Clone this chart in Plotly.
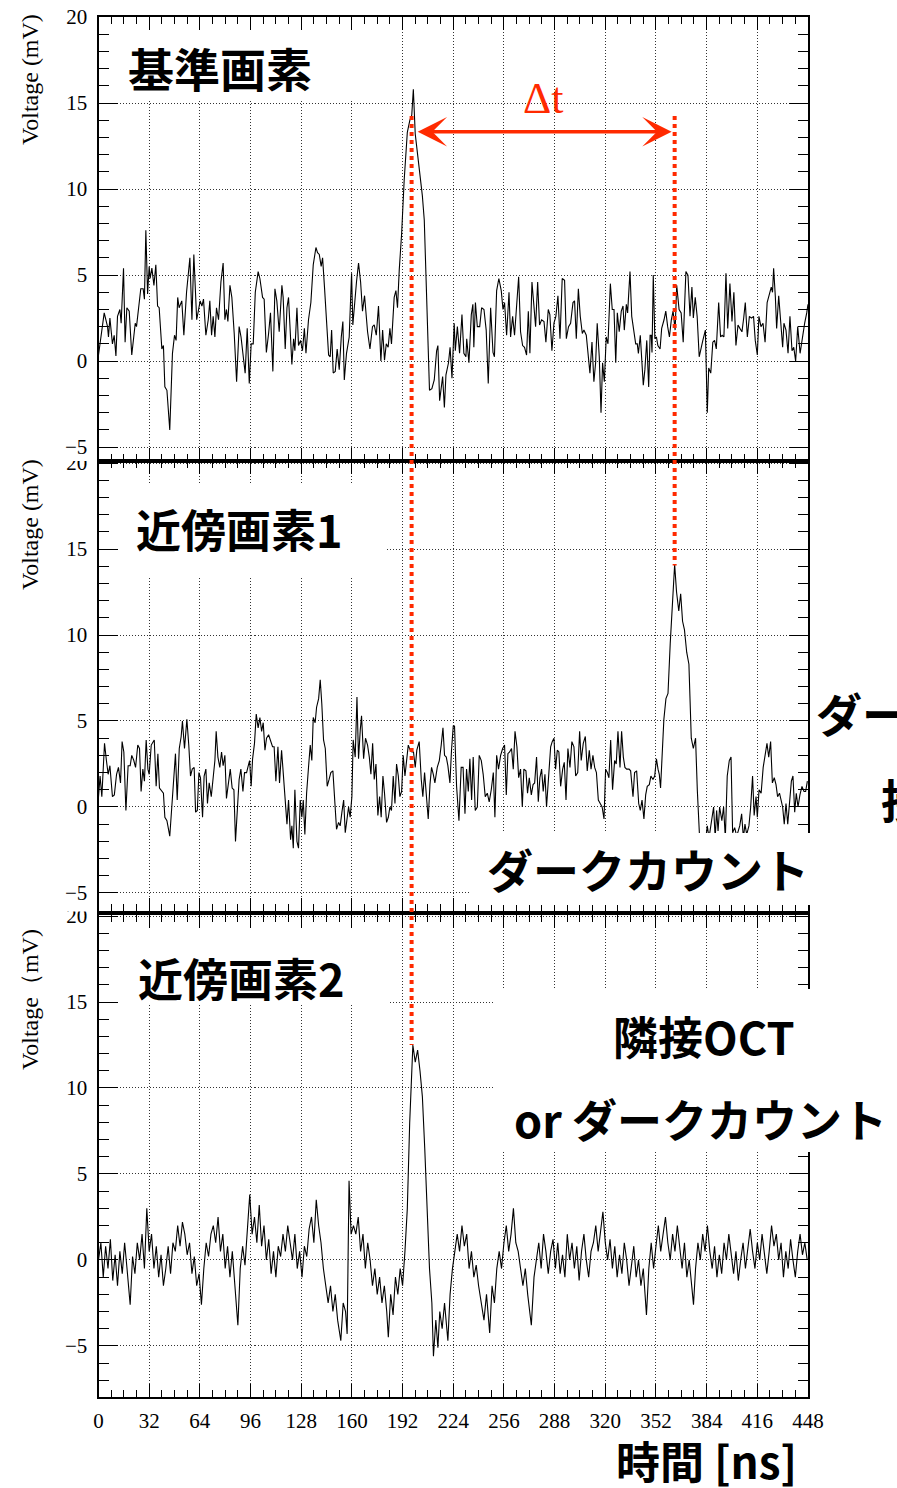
import plotly.graph_objects as go

# ---------------- data (time [ns], voltage [mV]) ----------------
P1 = [(0,0.35),(3.6,2.8),(5.7,2.0),(6.3,1.4),(7.2,2.5),(8.8,1.0),(9.9,1.5),(11,0.3),(12,2.6),(13.5,3.0),(14.3,2.2),(15.8,5.4),(16.8,1.1),(17.9,3.1),(19.4,2.9),(21,0.35),(23.2,2.2),(24,2.0),(26.7,4.2),(28.2,4.2),(29,3.6),(29.9,7.6),(31,3.9),(32,5.5),(32.6,4.8),(33.7,5.4),(35,4.4),(36.2,5.6),(37.3,3.2),(38.3,3.1),(40,0.7),(41,0.9),(41.9,-1.5),(43.2,-1.7),(45,-4.0),(46.7,0.45),(48,1.5),(49,1.2),(50,3.7),(50.9,3.1),(52.6,3.5),(53.9,1.5),(55.6,4.0),(57.7,6.0),(59,2.4),(60.2,6.2),(62,2.4),(63.2,2.9),(64.2,3.5),(65.3,3.2),(66.3,3.6),(67.8,1.5),(69.3,2.4),(70.3,3.5),(71.4,1.5),(72.4,2.6),(73.5,1.4),(74.5,3.1),(75.8,2.4),(77.3,4.6),(78.7,5.7),(79.8,2.4),(80.8,3.0),(81.7,2.3),(83,4.4),(84.2,3.7),(85.7,1.6),(87.2,-1.2),(88.8,2.0),(90,1.4),(91.4,0.05),(92.6,-0.7),(93.9,1.9),(95.2,-1.3),(96.4,1.0),(97.7,1.0),(99,4.0),(100.8,5.2),(101.9,4.8),(103.6,3.7),(104.6,3.6),(106,0.5),(107.4,1.6),(108.6,2.8),(110.1,-0.6),(111.4,4.2),(112.6,3.5),(114.1,1.7),(115.8,4.4),(116.6,3.7),(117.9,0.7),(119,3.1),(120,3.7),(121.3,1.5),(122.1,-0.2),(123.2,1.3),(124,0.6),(125.3,3.1),(126.3,0.9),(127.6,1.2),(128.8,0.6),(130,1.9),(131,0.45),(132.6,2.4),(134.1,3.4),(135.6,5.6),(137.3,6.6),(138.3,6.3),(139.4,6.2),(140.6,5.5),(141.5,6.0),(142.7,4.3),(144.2,1.6),(145.3,0.35),(146.3,0.25),(147.2,1.8),(148.2,-0.7),(149.5,-0.6),(150.7,0.7),(152,-0.5),(153.3,1.4),(154.3,2.3),(155.2,-1.1),(156.6,0.45),(158.3,1.4),(159.8,5.1),(160.6,2.1),(161.7,3.5),(162.9,4.6),(164.2,5.7),(165.5,4.6),(166.7,2.9),(168,3.8),(169.9,1.7),(171.4,0.7),(173,2.0),(174.1,2.1),(175.4,1.5),(176.8,3.2),(178.3,0),(179.4,1.8),(180.6,0.05),(181.7,1.0),(182.9,0.8),(184,1.9),(185,1.0),(186.7,3.7),(187.8,4.1),(188.8,3.1),(189.9,5.3),(191.4,7.4),(193,10.5),(195,13.3),(196.6,14.0),(197.8,14.3),(198.8,15.8),(200,13.2),(201.5,12.0),(203,10.9),(204.5,9.6),(205.7,8.2),(206.7,5.1),(208,1.5),(209,-1.7),(210.5,-1.6),(212,-1.1),(213.5,0.6),(214.3,0.9),(215.4,-2.3),(217.3,-0.9),(218.4,-2.7),(219.4,-0.8),(221,-0.1),(222,0.8),(223.2,-1.0),(224.6,2.2),(225.3,0.6),(226.6,2.0),(228,0.45),(229.5,2.7),(230.7,0.45),(232,0.25),(232.5,1.3),(233.9,-0.1),(235.4,2.7),(236.4,3.3),(237,0.8),(238,3.4),(239.2,2.0),(240.7,2.0),(241.9,3.1),(243.4,3.0),(244.8,1.8),(246.1,-1.3),(247.6,3.1),(249.1,0.5),(250,0.25),(251.4,4.1),(252.8,4.8),(254.3,4.1),(255.4,3.0),(256.4,3.4),(257.7,1.5),(259.2,4.0),(260.2,1.4),(261.5,2.6),(262.7,1.5),(264,3.3),(265.3,4.9),(266.5,1.7),(267.8,0.9),(269,0.8),(270.3,0.35),(271.4,2.9),(272.4,0.45),(273.7,4.6),(275,3.3),(276,2.0),(277.3,4.6),(278.5,2.1),(279.8,2.4),(281.3,2.3),(282.5,1.1),(284,3.0),(285,2.7),(286.3,0.6),(287.6,2.2),(288.8,2.6),(290.1,3.8),(291.4,1.3),(292.8,4.8),(294.3,4.7),(295.4,1.3),(296.8,2.0),(298.1,2.2),(299.6,3.4),(300.6,3.5),(301.7,1.3),(303,4.2),(304.2,2.6),(305.5,1.6),(306.5,1.8),(308,1.5),(309.3,0.45),(310.3,-0.7),(311.6,1.1),(312.8,-1.2),(313.9,-0.1),(314.9,2.2),(316.2,0.25),(317.3,-3.0),(318.3,-0.1),(319.4,-1.2),(320.6,1.4),(321.7,1.0),(323.2,4.5),(324.4,3.0),(325.5,3.0),(326.6,-0.1),(327.6,2.8),(328.8,1.7),(330.1,2.9),(331.2,3.2),(332,1.8),(333.3,3.3),(334.1,2.8),(335.6,5.2),(336.7,2.6),(337.9,1.9),(339.2,1.0),(340.2,1.0),(340.9,0.45),(342.1,1.5),(343,0.25),(344,-1.4),(345,-0.5),(346.2,1.2),(347.4,-1.5),(348.3,1.5),(349,1.5),(349.5,0.5),(350.3,5.0),(351.3,1.3),(352.3,1.4),(353.2,0.9),(354.6,0.7),(355.6,1.9),(357.1,2.4),(358.2,2.9),(359.4,2.0),(360.5,1.4),(361.7,2.4),(362.8,2.9),(364.1,1.8),(365.1,4.4),(366.6,3.0),(367.9,2.8),(369.2,1.1),(370.9,5.2),(372.2,5.0),(373.5,2.6),(374.7,4.3),(375.6,2.5),(376.8,3.7),(378,2.6),(379.3,0.25),(380.5,0.8),(381.6,1.2),(383.2,1.8),(384.4,-3.0),(385.3,-0.4),(386.6,-0.7),(387.9,1.1),(389,1.2),(390.1,0.7),(391.6,3.4),(392.8,1.4),(393.8,1.5),(394.9,1.4),(396.2,5.1),(397.3,1.9),(398.7,4.5),(400,2.3),(401.2,4.0),(402.5,0.9),(403.8,2.1),(405,1.9),(406.3,1.7),(407.4,2.5),(408.4,3.4),(409.7,1.4),(411,2.6),(412.3,2.5),(413.6,2.6),(414.7,1.2),(416,0.35),(417,2.6),(418.3,2.0),(419.6,2.2),(420.9,1.1),(422.2,3.4),(423.7,4.0),(424.8,4.3),(425.6,4.0),(426.3,5.4),(427.4,3.7),(428.2,1.9),(429.5,3.8),(430.7,2.4),(432,0.8),(432.8,2.2),(434.1,1.8),(435.4,0.45),(436.6,2.6),(437.9,0.6),(439,0.8),(440.2,0),(441.5,2.0),(443,0.45),(444.4,1.4),(445.9,2.2),(447.2,2.8),(448,3.3)]

P2 = [(0,0.6),(1,1.8),(2.1,0.6),(3.8,3.7),(5,2.7),(6.1,1.9),(7.2,2.4),(8.8,0.6),(10,0.7),(11.4,1.9),(12.6,2.3),(13.9,1.4),(14.9,3.8),(16,3.2),(17.3,-0.2),(18.7,2.4),(20,2.4),(21,3.0),(22.3,2.7),(23.4,2.3),(24.8,3.6),(25.9,3.4),(26.9,0.9),(28,2.2),(29,1.5),(30.1,3.9),(31.2,2.2),(32,1.9),(33.3,3.6),(34.3,3.8),(35.2,3.9),(36.4,1.2),(37.5,3.1),(38.5,1.1),(39.8,0.9),(41,0.8),(41.9,-0.6),(43.2,-0.8),(45,-1.7),(46.3,0),(47.4,2.0),(48.6,3.1),(49.7,0.4),(51,3.4),(52.2,4.1),(53,5.0),(54.3,3.4),(55.8,5.1),(57,3.6),(58.1,1.8),(59.2,2.2),(60.4,2.3),(61.3,-0.3),(62.4,-0.2),(63.4,2.0),(64.4,1.7),(65.7,-0.6),(66.7,1.8),(67.8,2.2),(68.8,0.2),(69.9,1.4),(71.2,0.6),(72.4,1.7),(73.5,2.7),(74.3,4.4),(75.4,2.9),(76.6,2.3),(77.7,3.2),(78.7,2.4),(79.8,3.0),(80.8,0.5),(82.1,1.6),(83.2,2.2),(84.4,1.1),(85.5,1.0),(86.5,-2.0),(87.8,0),(88.8,1.6),(89.9,2.2),(91.2,0.9),(92.2,2.0),(93.5,2.0),(94.3,2.3),(95.4,2.7),(96.4,1.2),(97.3,2.8),(98.5,3.7),(99.6,5.4),(100.8,4.6),(101.9,5.2),(103,4.4),(104,4.9),(105.1,3.3),(106.1,4.0),(107.4,4.2),(108.6,3.9),(109.9,3.5),(110.9,3.5),(112,1.5),(113.3,3.5),(114.3,1.4),(115.6,3.3),(116.6,2.1),(117.9,0.4),(119,-1.0),(120,0.4),(121.3,-1.9),(122.1,-1.1),(123,-2.4),(124,1.0),(125.3,-2.0),(126.3,-2.4),(127.4,0.4),(128.4,-0.6),(129.3,0.4),(130.3,-1.6),(131.4,0.8),(132.6,2.3),(133.7,3.6),(134.7,2.7),(135.6,5.2),(136.8,4.9),(137.7,5.8),(139,6.3),(140,7.4),(141,6.0),(142.1,3.9),(143.2,3.4),(144.4,1.2),(145.6,1.6),(146.7,2.0),(148,2.1),(149,0.6),(150.3,-1.3),(151.6,-0.9),(152.6,-1.1),(153.7,-0.3),(154.8,0.4),(155.8,-1.5),(156.8,-0.6),(157.9,0),(158.9,-0.6),(160,0.6),(160.8,3.9),(162.1,2.9),(163.2,6.4),(164.2,2.8),(165.3,4.5),(166.1,5.3),(167.4,2.8),(168.6,4.0),(169.9,3.6),(171,2.9),(172,1.9),(173.1,3.7),(174.1,1.6),(175.2,2.5),(176.4,-0.5),(177.5,0.6),(178.5,-0.6),(179.6,1.8),(180.6,0.8),(181.9,-0.9),(183,-0.6),(184,0),(185,-0.2),(186.1,1.8),(187.2,0.2),(188.2,2.5),(189.3,1.8),(190.3,0.6),(191.4,0.9),(192.4,3.0),(193.5,1.8),(194.5,2.7),(195.6,3.6),(196.8,3.3),(197.9,3.2),(198.9,3.2),(200,2.3),(201,3.3),(202.5,3.8),(203.8,1.6),(204.8,0.6),(205.9,2.0),(206.9,0.9),(208.2,-0.7),(209.3,1.3),(210.3,2.3),(211.4,1.9),(212.4,1.4),(213.9,2.3),(215.2,2.7),(216.4,3.6),(217.5,4.6),(218.5,3.0),(219.6,2.9),(220.6,2.4),(221.9,1.4),(222.9,3.3),(224,4.7),(224.8,4.7),(226.1,1.2),(227.6,-0.8),(229,2.3),(230.2,2.3),(231.4,-0.4),(232.4,2.2),(233.5,0.9),(234.5,2.8),(235.6,0.4),(236.6,2.9),(237.9,-0.2),(239.2,0),(240.4,3.0),(241.7,2.7),(242.9,1.9),(244.2,0.6),(245.5,0.8),(246.7,0.3),(248,1.0),(249.3,2.0),(250.3,-0.6),(251.4,3.0),(252.6,2.2),(253.9,3.0),(255.2,3.4),(256.4,3.6),(257.5,0.7),(258.5,3.1),(259.6,3.2),(260.8,3.4),(261.9,2.2),(263,4.4),(264.2,3.5),(265.3,1.7),(266.5,2.2),(267.6,0),(268.6,2.2),(269.9,2.1),(270.9,0.8),(272,1.7),(273.3,0.7),(274.4,1.3),(275.4,1.4),(276.6,2.9),(277.7,0.3),(278.7,1.7),(279.8,2.2),(280.8,0.9),(281.9,1.9),(282.9,0),(284.4,2.0),(285.5,3.5),(286.5,3.8),(287.6,4.0),(288.6,2.2),(289.7,3.3),(290.7,3.2),(291.8,1.2),(293.1,2.2),(294.1,2.6),(295.2,0.4),(296.4,3.4),(297.7,2.3),(298.9,3.8),(300.2,3.5),(301.3,1.8),(302.6,2.0),(303.8,4.4),(304.8,2.7),(306.1,3.7),(307.4,4.1),(308.6,2.1),(309.9,3.3),(311,2.2),(312.2,3.0),(313.3,2.3),(314.4,2.0),(315.6,0.4),(316.8,0.2),(318,0),(319.2,-0.7),(320.2,2.2),(321.3,2.0),(322.3,1.7),(323.4,3.9),(324.6,1.0),(325.9,2.7),(326.9,2.5),(328,4.4),(329.3,2.3),(330.3,4.4),(331.4,2.9),(332.4,2.3),(333.5,2.2),(335,2.2),(336,2.1),(337.5,0.6),(338.5,2.0),(339.8,2.1),(341.1,0.2),(342.1,-0.2),(343.2,0.4),(344.4,-0.7),(345.5,0.7),(346.5,1.2),(347.8,1.3),(348.8,1.8),(350.1,1.6),(351.2,1.8),(352.3,2.8),(353.3,2.2),(354.1,1.9),(354.9,1.1),(356,3.7),(357,5.1),(358.3,6.3),(359.6,6.6),(361,9.5),(362.5,12.0),(363.8,14.1),(365,12.5),(366.4,11.4),(367.6,12.4),(368.8,10.8),(370,10.3),(371.4,9.0),(372.8,8.3),(374.3,4.0),(375.6,3.4),(377,4.0),(378.1,1.0),(379.4,-1.5),(380.5,-2.5),(381.8,-3.0),(383,-2.2),(384.4,-1.1),(385.5,-1.8),(387,-1.0),(388.4,0),(389.4,-1.8),(390.3,-0.2),(391.2,-1.4),(392.2,0),(393.6,-0.8),(394.7,0),(395.8,-1.8),(397,1.8),(398.3,2.7),(399.4,2.9),(400.4,-1.5),(401.7,-1.2),(403,-1.7),(404,-1.3),(404.9,-1.1),(406.1,-0.4),(407.2,-1.8),(408.2,-1.0),(409.3,-1.6),(410.7,-1.1),(411.8,0),(413,1.8),(414,-0.5),(415.2,0.6),(416,-0.6),(417.1,1.0),(418.4,0.8),(419.7,2.3),(421,3.1),(422.1,3.7),(423.2,2.9),(424.4,3.8),(425.5,1.4),(426.7,1.7),(427.8,1.3),(428.8,0.6),(430,0.8),(431,0.3),(432,0),(433,-1.0),(434.1,0.2),(435.2,-1.0),(436.4,0.4),(437.5,1.5),(438.5,1.8),(439.6,-0.3),(440.6,0.8),(441.7,0),(442.9,0.7),(444.2,1.2),(445.5,0.9),(446.5,0.9),(447.6,1.5)]

P3 = [(0,0),(1.5,1.0),(3,-1.0),(4.5,0.8),(6,-0.5),(7.5,1.2),(9,-1.2),(10.5,0.3),(12,-1.5),(13.5,0.5),(15,-0.8),(16.5,1.0),(18,-0.5),(20,-2.6),(21.5,0.2),(23,-0.8),(24.5,1.0),(26,0),(27.5,1.5),(29,-0.5),(30.5,3.0),(32,0.5),(33.5,1.5),(35,-0.5),(36.5,0.8),(38,-1.0),(39.5,0.3),(41,-1.5),(42.5,-0.5),(44,0.8),(45.5,-0.8),(47,1.0),(48.5,0.5),(50,2.0),(51.5,0.8),(53,2.2),(54.5,1.5),(56,0.3),(57.5,1.0),(59,-0.8),(60.5,0.2),(62,-1.5),(63.5,-0.8),(65,-2.6),(66.5,-0.5),(68,1.0),(69.5,0.2),(71,1.5),(72.5,2.0),(74,1.0),(75.5,2.5),(77,0.5),(78.5,1.5),(80,-0.5),(81.5,0.8),(83,-1.0),(84.5,0.5),(86,-1.5),(88,-3.8),(89.5,-0.5),(91,0.8),(92.5,-0.3),(94,2.0),(95.5,3.8),(97,1.5),(98.5,2.5),(100,1.0),(101.5,3.2),(103,0.8),(104.5,2.0),(106,0),(107.5,1.2),(109,-0.8),(110.5,0.5),(112,-1.0),(113.5,0.8),(115,0.2),(116.5,1.5),(118,0.5),(119.5,2.0),(121,1.0),(122.5,0),(124,1.5),(125.5,-0.5),(127,0.5),(128.5,-1.0),(130,0.8),(131.5,0.2),(133,1.8),(134.5,2.5),(136,1.0),(137.5,3.5),(139,2.0),(140.5,1.0),(142,-0.5),(143.5,-1.5),(145,-2.5),(146.5,-1.5),(148,-3.0),(149.5,-2.0),(151,-3.5),(153,-4.7),(154.5,-2.5),(156,-3.0),(157,-4.3),(158.2,4.6),(159.5,1.5),(161,2.0),(162.5,1.5),(164,2.5),(165.5,0.5),(167,1.5),(168.5,-0.5),(170,1.0),(171.5,0),(173,-1.5),(174.5,-0.5),(176,-2.0),(177.5,-1.0),(179,-2.5),(180.5,-1.5),(182,-3.0),(183,-4.5),(184.5,-2.0),(186,-3.2),(187.5,-1.0),(189,-2.0),(190.5,-0.5),(192,-1.5),(193.5,0.5),(195,3.0),(196.5,8.0),(197.5,10.5),(198.5,12.5),(200,11.5),(201.5,12.2),(203,11.0),(204.5,9.5),(206,6.5),(207.5,3.0),(209,-0.5),(210.5,-2.5),(211.5,-5.6),(213,-3.5),(214.3,-5.1),(215.5,-3.0),(217,-4.0),(218.5,-2.5),(220.6,-4.7),(222,-2.0),(223.5,-0.5),(225,0.5),(226.5,1.5),(228,0.5),(229.5,2.0),(231,0.8),(232.5,1.5),(234,-0.5),(235.5,0.5),(237,-1.0),(238.5,-0.3),(240,-1.5),(241.5,-2.5),(243.4,-3.5),(245,-2.0),(247,-4.25),(248.5,-1.5),(250,-2.5),(251.5,-0.5),(253,0.5),(254.5,-0.5),(256,1.0),(257.5,2.0),(259,0.5),(260.5,1.5),(262,3.0),(263.5,1.0),(265,0.5),(266.5,-0.5),(268,-1.5),(269.5,-0.5),(271,-2.0),(273.3,-3.8),(275,-1.0),(276.5,0),(278,1.0),(279.5,-0.5),(281,1.5),(282.5,0.5),(284,-0.8),(285.5,0.5),(287,1.2),(288.5,-0.5),(290,1.0),(291.5,-0.8),(293,0.3),(294.5,-1.0),(296,1.5),(297.5,0),(299,1.0),(300.5,-0.5),(302,0.8),(303.5,-1.2),(305,0.5),(306.5,1.5),(308,0),(309.5,-1.0),(311,0.5),(312.5,1.0),(314,2.0),(315.5,0.5),(317,1.5),(318.5,2.8),(320,1.0),(321.5,0),(323,1.2),(324.5,-0.5),(326,0.8),(327.5,-1.0),(329,0.3),(330.5,-0.8),(332,1.0),(333.5,0),(335,-1.5),(336.5,-0.5),(338,0.8),(339.5,-1.0),(341,0),(342.5,-1.5),(344,-0.5),(346,-3.2),(347.5,-0.5),(349,1.0),(350.5,-0.5),(352,0.8),(353.5,2.0),(355,0.5),(356.5,1.5),(358,2.5),(359.5,1.0),(361,0),(362.5,1.5),(364,0.5),(365.5,2.0),(367,0.8),(368.5,-0.5),(370,1.0),(371.5,-1.0),(373,0),(374.5,-1.5),(375.7,-2.6),(377,-0.5),(378.5,1.0),(380,0),(381.5,1.5),(383,0.5),(384.5,2.0),(386,0.5),(387.5,-0.5),(389,0.8),(390.5,-1.0),(392,0.3),(393.5,-0.8),(395,1.0),(396.5,0),(398,1.5),(399.5,0.3),(401,-0.8),(402.5,0.5),(404,-1.2),(405.5,0),(407,1.0),(408.5,-0.5),(410,0.8),(411.5,1.8),(413,0.5),(414.5,-0.5),(416,1.0),(417.5,0),(419,1.5),(420.5,0.5),(422,-0.8),(423.5,0.5),(425,2.0),(426.5,0.8),(428,1.5),(429.5,0),(431,1.0),(432.5,-1.0),(434,0.5),(435.5,-0.5),(437,1.2),(438.5,0),(440,-1.0),(441.5,0.5),(443,1.5),(444.5,0.3),(446,1.0),(447.5,0)]

X_TICKS = [0, 32, 64, 96, 128, 160, 192, 224, 256, 288, 320, 352, 384, 416, 448]
Y_TICKS = [-5, 0, 5, 10, 15, 20]

# annotation markers (times in ns, voltages in mV)
T_REF = 197.7      # reference pixel pulse
T_DARK = 363.8     # dark count pulse in neighbour 1
V_TOP = 14.25      # top of the red markers (panel 1)
V_END3 = 12.5      # bottom of marker 1 (panel 3)
V_END2 = 14.05     # bottom of marker 2 (panel 2)
ARROW_T0, ARROW_T1, ARROW_V = 200.6, 361.9, 13.33

# ---------------- geometry ----------------
W, H = 897, 1488
XL, XR = 98.5, 808.0
PXPERNS = (XR - XL) / 448.0


def xp(px):
    return px / W


def yp(py):
    return 1 - py / H


PANELS = [  # (top px, bottom px, y range)
    (16.5, 461.0, [-5.81, 20.03]),
    (461.0, 911.0, [-6.05, 20.12]),
    (915.0, 1397.0, [-7.97, 20.06]),
]


def ypaper(i, v):
    top, bot, rng = PANELS[i]
    d0, d1 = yp(bot), yp(top)
    return d0 + (v - rng[0]) / (rng[1] - rng[0]) * (d1 - d0)


def t_of_px(px):
    return (px - XL) / PXPERNS


def v_of_py(i, py):
    top, bot, rng = PANELS[i]
    return rng[1] - (py - top) / (bot - top) * (rng[1] - rng[0])


RED = "#ff2a00"
SERIF = "Liberation Serif, Times New Roman, serif"
JP = "Noto Sans CJK JP"

fig = go.Figure()
for i, P in enumerate([P1, P2, P3]):
    sfx = "" if i == 0 else str(i + 1)
    fig.add_trace(go.Scatter(x=[p[0] for p in P], y=[p[1] for p in P], mode="lines",
                             line=dict(color="black", width=1.1),
                             xaxis="x" + sfx, yaxis="y" + sfx,
                             showlegend=False, hoverinfo="skip"))

layout = dict(width=W, height=H, margin=dict(l=0, r=0, t=0, b=0, autoexpand=False),
              paper_bgcolor="white", plot_bgcolor="white", showlegend=False)

for i, (top, bot, rng) in enumerate(PANELS):
    sfx = "" if i == 0 else str(i + 1)
    layout["xaxis" + sfx] = dict(
        domain=[xp(XL), xp(XR)], anchor="y" + sfx, range=[0, 448],
        tickmode="array", tickvals=X_TICKS, ticktext=[str(v) for v in X_TICKS],
        ticks="inside", ticklen=13, tickwidth=1.2, tickcolor="black",
        showline=True, linewidth=2, linecolor="black", mirror="ticks",
        showgrid=True, gridcolor="#333", gridwidth=1, griddash="1px,2px",
        zeroline=False, showticklabels=(i == 2), automargin=False,
        tickfont=dict(family=SERIF, size=21, color="black"), ticklabelstandoff=4,
        minor=dict(dtick=8, tick0=0, ticks="inside", ticklen=7, tickwidth=1.1,
                   tickcolor="black", showgrid=False),
    )
    layout["yaxis" + sfx] = dict(
        domain=[yp(bot), yp(top)], anchor="x" + sfx, range=rng,
        tickmode="array", tickvals=Y_TICKS,
        ticktext=[("\u2212" + str(-v)) if v < 0 else str(v) for v in Y_TICKS],
        ticks="inside", ticklen=19, tickwidth=1.2, tickcolor="black",
        showline=True, linewidth=2, linecolor="black", mirror="ticks",
        showgrid=True, gridcolor="#333", gridwidth=1, griddash="1px,2px",
        zeroline=False, automargin=False,
        tickfont=dict(family=SERIF, size=21, color="black"), ticklabelstandoff=5,
        minor=dict(dtick=1, tick0=0, ticks="inside", ticklen=10, tickwidth=1.1,
                   tickcolor="black", showgrid=False),
    )

shapes = []


def grid_cover(i, px0, px1, py0, py1):
    sfx = "" if i == 0 else str(i + 1)
    shapes.append(dict(type="rect", layer="between", xref="x" + sfx, yref="y" + sfx,
                       x0=t_of_px(px0), x1=t_of_px(px1),
                       y0=v_of_py(i, py1), y1=v_of_py(i, py0),
                       line=dict(width=0), fillcolor="white"))


def top_cover(px0, px1, py0, py1):
    shapes.append(dict(type="rect", layer="above", xref="paper", yref="paper",
                       x0=xp(px0), x1=xp(px1), y0=yp(py1), y1=yp(py0),
                       line=dict(width=0), fillcolor="white"))


# label boxes hiding the grid
grid_cover(0, 101, 385, 28, 100)
grid_cover(1, 101, 385, 485, 576)
grid_cover(2, 101, 390, 928, 1005)
# text boxes lying over the frames
top_cover(470, 813, 833, 905)
top_cover(495, 897, 989, 1152)
# cut tops of the "20" labels of lower panels
top_cover(50, 96, 454, 461)
top_cover(50, 96, 904, 911.5)

# red dotted markers
shapes.append(dict(type="line", layer="above", xref="x", yref="paper",
                   x0=T_REF, x1=T_REF, y0=ypaper(0, V_TOP), y1=ypaper(2, V_END3),
                   line=dict(color=RED, width=4, dash="dot")))
shapes.append(dict(type="line", layer="above", xref="x", yref="paper",
                   x0=T_DARK, x1=T_DARK, y0=ypaper(0, V_TOP), y1=ypaper(1, V_END2),
                   line=dict(color=RED, width=4, dash="dot")))
layout["shapes"] = shapes

ann = []


def txt(text, cx, cy, size, family=JP, color="black", weight=700, xanchor="center"):
    ann.append(dict(text=text, x=xp(cx), y=yp(cy), xref="paper", yref="paper",
                    xanchor=xanchor, yanchor="middle", showarrow=False,
                    font=dict(family=family, size=size, color=color, weight=weight)))


txt("基準画素", 220, 67, 46)
txt("近傍画素1", 239, 528, 45)
txt("近傍画素2", 241, 977, 45)
txt("ダークカウント", 648, 868, 46)
txt("隣接OCT", 704, 1035, 45)
txt("or ダークカウント", 700, 1118, 45)
txt("ダークカウント", 814, 712, 46, xanchor="left")
txt("接続", 879, 798, 46, xanchor="left")
txt("時間 [ns]", 706, 1460, 44)
txt("\u0394t", 543, 98, 44, family=SERIF, color=RED, weight=400)

for cy, label in [(80, "Voltage (mV)"), (525, "Voltage (mV)"), (1000, "Voltage\uff08mV)")]:
    ann.append(dict(text=label, x=xp(30), y=yp(cy), xref="paper", yref="paper",
                    xanchor="center", yanchor="middle", showarrow=False, textangle=-90,
                    font=dict(family=SERIF, size=24, color="black")))

# double-headed delta-t arrow
ann.append(dict(text="", x=ARROW_T1, y=ARROW_V, xref="x", yref="y",
                ax=ARROW_T0, ay=ARROW_V, axref="x", ayref="y",
                showarrow=True, arrowhead=3, startarrowhead=3, arrowside="end+start",
                arrowwidth=3.5, arrowsize=1.4, startarrowsize=1.4, arrowcolor=RED))
layout["annotations"] = ann

fig.update_layout(**layout)
fig.write_html("out.html")
